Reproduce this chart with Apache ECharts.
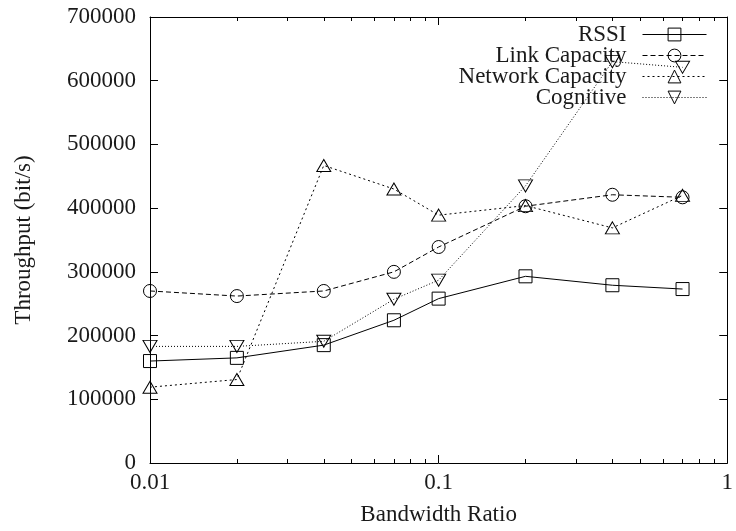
<!DOCTYPE html>
<html>
<head>
<meta charset="utf-8">
<script src="https://cdn.jsdelivr.net/npm/echarts@6/dist/echarts.min.js"></script>
<style>
html,body{margin:0;padding:0;background:#fff;}
#chart{width:736px;height:531px;}
</style>
</head>
<body>
<div id="chart"></div>
<script>
// ---- data ----
var ratios = [0.01, 0.02, 0.04, 0.07, 0.1, 0.2, 0.4, 0.7];
var rssi = [160000, 165000, 185000, 224000, 258000, 293000, 279000, 273000];
var linkCapacity = [270000, 262000, 270000, 300000, 339000, 403000, 421000, 417000];
var networkCapacity = [119000, 131000, 467000, 430000, 389000, 404000, 369000, 420000];
var cognitive = [183000, 183000, 191000, 257000, 287000, 435000, 630000, 621000];
var seriesNames = ['RSSI', 'Link Capacity', 'Network Capacity', 'Cognitive'];
var xMajorTicks = [0.01, 0.1, 1];
var xMinorTicks = [0.02, 0.03, 0.04, 0.05, 0.06, 0.07, 0.08, 0.09, 0.2, 0.3, 0.4, 0.5, 0.6, 0.7, 0.8, 0.9];
var yMin = 0, yMax = 700000, yStep = 100000;

function pairs(vals) { return ratios.map(function (r, i) { return [r, vals[i]]; }); }

var FONT = 'Liberation Serif';
var TXT = '#1a1a1a';

function xAxisDef(pos, ticks, len, showLabel, showLine) {
  return {
    type: 'log', logBase: 10, min: 0.01, max: 1, position: pos,
    axisLine: { show: showLine, onZero: false, lineStyle: { color: '#000', width: 1 } },
    axisTick: { show: true, inside: true, length: len, customValues: ticks, lineStyle: { color: '#000', width: 1 } },
    axisLabel: { show: showLabel, customValues: ticks, margin: 8, fontFamily: FONT, fontSize: 23, color: TXT,
      formatter: function (v) { return String(+(+v).toPrecision(3)); } },
    splitLine: { show: false }, minorTick: { show: false }
  };
}
function yAxisDef(pos, showLabel) {
  return {
    type: 'value', min: yMin, max: yMax, interval: yStep, position: pos,
    axisLine: { show: true, lineStyle: { color: '#000', width: 1 } },
    axisTick: { show: true, inside: true, length: 8, lineStyle: { color: '#000', width: 1 } },
    axisLabel: { show: showLabel, margin: 14, fontFamily: FONT, fontSize: 23, color: TXT,
      formatter: function (v) { return String(v); } },
    splitLine: { show: false }
  };
}

var xAxes = [
  xAxisDef('bottom', xMajorTicks, 8, true, true),
  xAxisDef('bottom', xMinorTicks, 4, false, false),
  xAxisDef('top', xMajorTicks, 8, false, true),
  xAxisDef('top', xMinorTicks, 4, false, false)
];
xAxes[0].name = 'Bandwidth Ratio';
xAxes[0].nameLocation = 'middle';
xAxes[0].nameGap = 40;
xAxes[0].nameTextStyle = { fontFamily: FONT, fontSize: 23, color: TXT };

var yAxes = [yAxisDef('left', true), yAxisDef('right', false)];
yAxes[0].name = 'Throughput (bit/s)';
yAxes[0].nameLocation = 'middle';
yAxes[0].nameGap = 115;
yAxes[0].nameTextStyle = { fontFamily: FONT, fontSize: 23, color: TXT };

var downTri = 'path://M0,0 L20,0 L10,17.32 Z';
var styles = [
  { data: rssi, symbol: 'rect', size: 13, dash: 'solid' },
  { data: linkCapacity, symbol: 'circle', size: 13, dash: [5, 3] },
  { data: networkCapacity, symbol: 'triangle', size: [14, 12], dash: [2, 3] },
  { data: cognitive, symbol: downTri, size: [14, 12], dash: [1, 2] }
];

var series = styles.map(function (s, i) {
  return {
    name: seriesNames[i], type: 'line', xAxisIndex: 0, yAxisIndex: 0,
    data: pairs(s.data),
    symbol: s.symbol, symbolSize: s.size, showAllSymbol: true,
    lineStyle: { color: '#000', width: 1, type: s.dash },
    itemStyle: { color: 'rgba(255,255,255,0)', borderColor: '#000', borderWidth: 1 },
    emphasis: { disabled: true },
    animation: false, z: 2 + i
  };
});

var chart = echarts.init(document.getElementById('chart'), null, { renderer: 'canvas' });
chart.setOption({
  backgroundColor: '#fff',
  animation: false,
  grid: { left: 150, right: 4, top: 17, bottom: 67, containLabel: false },
  legend: {
    orient: 'vertical', right: 29, top: 23, align: 'right', padding: 0,
    itemWidth: 64, itemHeight: 16, itemGap: -2,
    data: seriesNames,
    lineStyle: { width: 1 },
    itemStyle: { borderWidth: 1 },
    textStyle: { fontFamily: FONT, fontSize: 23, color: TXT, padding: [0, 11, 0, 0] },
    selectedMode: false
  },
  xAxis: xAxes,
  yAxis: yAxes,
  series: series
});
</script>
</body>
</html>
